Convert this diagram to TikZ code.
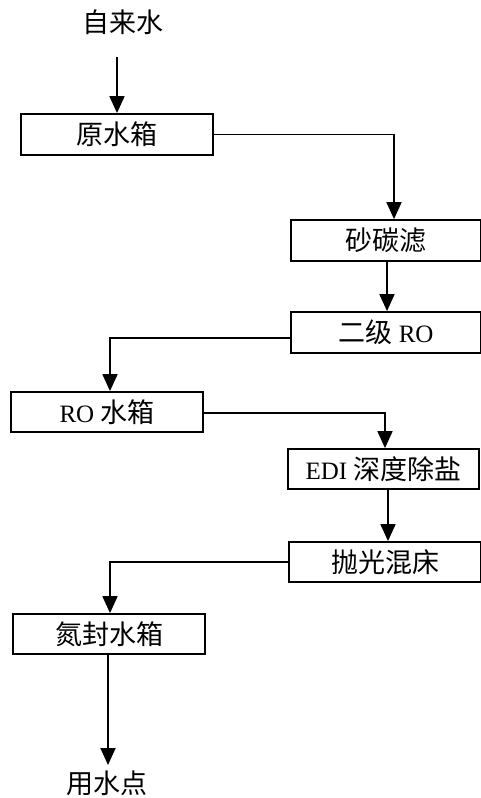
\documentclass[tikz,border=0pt]{standalone}
\usepackage{fontspec}
\setmainfont{Liberation Serif}
\newfontfamily\cjk{Noto Sans CJK SC}[Scale=1.08]
\usetikzlibrary{arrows.meta}
\begin{document}
\begin{tikzpicture}[x=1pt,y=-1pt,
  box/.style={draw, line width=1.8pt, minimum height=41pt, inner sep=0pt, font=\fontsize{25}{27}\selectfont},
  lbl/.style={inner sep=0pt, font=\fontsize{25}{27}\selectfont},
  arr/.style={line width=1.8pt, -{Triangle[width=15pt,length=17pt]}}]
\useasboundingbox (0,0) rectangle (480,798);
\node[lbl] (src) at (123,22) {\cjk 自来水};
\node[box, minimum width=192pt] (yxs) at (117,134.5) {\cjk 原水箱};
\node[box, minimum width=190pt] (stl) at (386,240.5) {\cjk 砂碳滤};
\node[box, minimum width=190pt] (ro2) at (386,332.5) {{\cjk 二级} RO};
\node[box, minimum width=192pt, minimum height=40pt] (rox) at (107,412) {RO {\cjk 水箱}};
\node[box, minimum width=191pt, minimum height=40pt] (edi) at (383.5,469) {EDI {\cjk 深度除盐}};
\node[box, minimum width=192pt, minimum height=40pt] (pg) at (385,562) {\cjk 抛光混床};
\node[box, minimum width=192pt, minimum height=40pt] (dfs) at (109,634) {\cjk 氮封水箱};
\node[lbl] (use) at (107,783) {\cjk 用水点};
\coordinate (a0) at (117,57);
\draw[arr] (a0) -- (yxs.north);
\coordinate (c1) at (394,134.5);
\draw[arr] (yxs.east) -- (c1) -- (c1 |- stl.north);
\draw[arr] (stl.south -| 387,0) -- (ro2.north -| 387,0);
\coordinate (c2) at (110,338);
\draw[arr] (ro2.west |- c2) -- (c2) -- (c2 |- rox.north);
\coordinate (c3) at (385,413);
\draw[arr] (rox.east |- c3) -- (c3) -- (c3 |- edi.north);
\draw[arr] (edi.south -| 388,0) -- (pg.north -| 388,0);
\coordinate (c4) at (110,562);
\draw[arr] (pg.west) -- (c4) -- (c4 |- dfs.north);
\coordinate (c5) at (108,765);
\draw[arr] (dfs.south -| c5) -- (c5);
\end{tikzpicture}
\end{document}
